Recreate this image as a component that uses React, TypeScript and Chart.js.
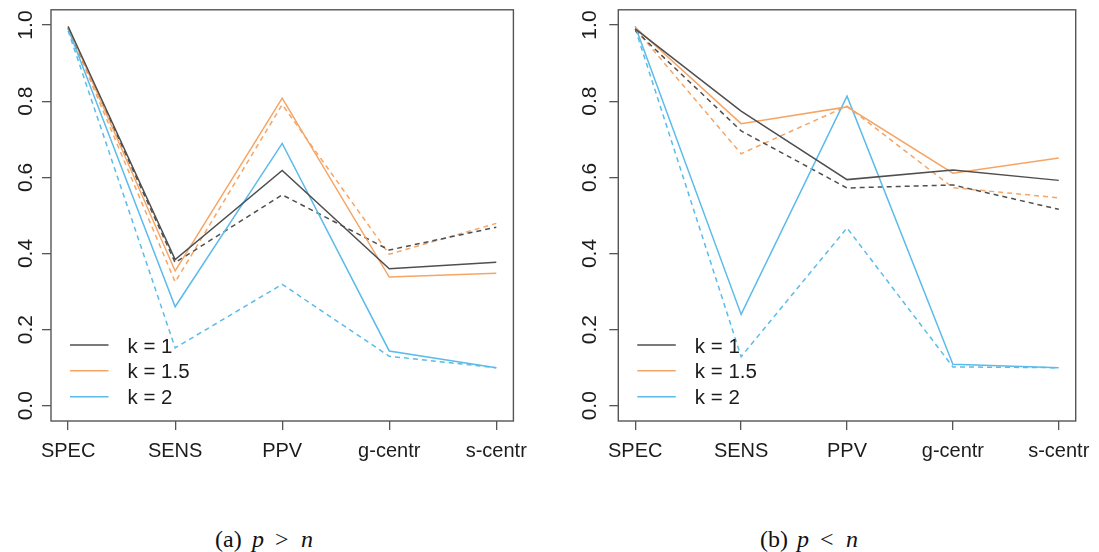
import React, { useEffect, useRef } from "react";
import { Chart, registerables } from "chart.js";

Chart.register(...registerables);

// Category axis and tick values
const categories = ["SPEC", "SENS", "PPV", "g-centr", "s-centr"];
const yTicks = [0, 0.2, 0.4, 0.6, 0.8, 1.0];

// Legend entries and their colours (one per k)
const kLabels = ["k = 1", "k = 1.5", "k = 2"];
const kColors = ["#4f4f4f", "#f6a565", "#5bbbea"];

// Panel (a): p > n
const aK1Solid = [0.996, 0.384, 0.618, 0.36, 0.377];
const aK1Dashed = [0.992, 0.376, 0.554, 0.409, 0.469];
const aK15Solid = [0.996, 0.354, 0.808, 0.338, 0.348];
const aK15Dashed = [0.993, 0.325, 0.791, 0.398, 0.479];
const aK2Solid = [0.99, 0.26, 0.689, 0.144, 0.1];
const aK2Dashed = [0.985, 0.152, 0.319, 0.13, 0.1];

// Panel (b): p < n
const bK1Solid = [0.99, 0.774, 0.594, 0.619, 0.592];
const bK1Dashed = [0.986, 0.722, 0.572, 0.58, 0.516];
const bK15Solid = [0.994, 0.741, 0.785, 0.611, 0.651];
const bK15Dashed = [0.99, 0.662, 0.787, 0.573, 0.546];
const bK2Solid = [0.997, 0.24, 0.813, 0.109, 0.1];
const bK2Dashed = [0.99, 0.129, 0.467, 0.102, 0.1];

type Line = { values: number[]; k: number; dashed: boolean };

const panelA: Line[] = [
  { values: aK1Solid, k: 0, dashed: false },
  { values: aK15Solid, k: 1, dashed: false },
  { values: aK2Solid, k: 2, dashed: false },
  { values: aK1Dashed, k: 0, dashed: true },
  { values: aK15Dashed, k: 1, dashed: true },
  { values: aK2Dashed, k: 2, dashed: true },
];

const panelB: Line[] = [
  { values: bK1Solid, k: 0, dashed: false },
  { values: bK15Solid, k: 1, dashed: false },
  { values: bK2Solid, k: 2, dashed: false },
  { values: bK1Dashed, k: 0, dashed: true },
  { values: bK15Dashed, k: 1, dashed: true },
  { values: bK2Dashed, k: 2, dashed: true },
];

const FONT = "'Liberation Sans', Arial, Helvetica, sans-serif";
const TEXT = "#1c1c1c";
const FRAME = "#555555";
const CANVAS_H = 480;
const BOX_TOP = 9.8;
const BOX_BOTTOM = 421;
const LEGEND_ROWS = [345, 370.8, 396.7];

type PanelProps = {
  lines: Line[];
  left: number;
  width: number;
  boxLeft: number;
  boxRight: number;
  yLabelGap: number;
};

function Panel({ lines, left, width, boxLeft, boxRight, yLabelGap }: PanelProps) {
  const ref = useRef<HTMLCanvasElement | null>(null);

  useEffect(() => {
    const canvas = ref.current;
    if (!canvas) return;

    const datasets = lines.map((l, i) => ({
      label: `${kLabels[l.k]}${l.dashed ? " (dashed)" : ""}`,
      data: l.values.map((v, j) => ({ x: j + 1, y: v })),
      borderColor: kColors[l.k],
      backgroundColor: kColors[l.k],
      borderWidth: 1.5,
      borderDash: l.dashed ? [5, 4] : [],
      pointRadius: 0,
      pointHoverRadius: 0,
      fill: false,
      tension: 0,
      order: i,
    }));

    // Frame, rotated y tick labels and the in-plot legend
    const decor = {
      id: "decor",
      afterDraw(chart: Chart) {
        const { ctx, chartArea: a } = chart;
        const yScale = chart.scales.y;
        ctx.save();
        ctx.strokeStyle = FRAME;
        ctx.lineWidth = 1.4;
        ctx.setLineDash([]);
        ctx.strokeRect(a.left, a.top, a.right - a.left, a.bottom - a.top);

        ctx.fillStyle = TEXT;
        ctx.font = `21px ${FONT}`;
        ctx.textAlign = "center";
        ctx.textBaseline = "alphabetic";
        for (const v of yTicks) {
          const y = yScale.getPixelForValue(v);
          ctx.save();
          ctx.translate(a.left - yLabelGap, y);
          ctx.rotate(-Math.PI / 2);
          ctx.fillText(v.toFixed(1), 0, 0);
          ctx.restore();
        }

        ctx.font = `20.5px ${FONT}`;
        ctx.textAlign = "left";
        kLabels.forEach((label, i) => {
          const y = LEGEND_ROWS[i];
          ctx.strokeStyle = kColors[i];
          ctx.lineWidth = 1.6;
          ctx.beginPath();
          ctx.moveTo(a.left + 19, y);
          ctx.lineTo(a.left + 57.5, y);
          ctx.stroke();
          ctx.fillStyle = TEXT;
          ctx.fillText(label, a.left + 76.5, y + 7.5);
        });
        ctx.restore();
      },
    };

    const chart = new Chart(canvas, {
      type: "line",
      data: { datasets },
      options: {
        responsive: false,
        animation: false,
        events: [],
        layout: {
          padding: { left: 0, top: BOX_TOP, right: width - boxRight, bottom: 0 },
        },
        plugins: {
          legend: { display: false },
          tooltip: { enabled: false },
        },
        scales: {
          x: {
            type: "linear",
            min: 0.84,
            max: 5.16,
            afterBuildTicks: (s: any) => {
              s.ticks = categories.map((_, i) => ({ value: i + 1 }));
            },
            afterFit: (s: any) => {
              s.height = CANVAS_H - BOX_BOTTOM;
            },
            grid: {
              drawOnChartArea: false,
              drawTicks: true,
              tickLength: 9,
              color: FRAME,
              lineWidth: 1.3,
            },
            border: { display: false },
            ticks: {
              autoSkip: false,
              minRotation: 0,
              maxRotation: 0,
              padding: 9,
              color: TEXT,
              font: { family: FONT, size: 20 },
              callback: (v: any) => categories[Math.round(Number(v)) - 1] ?? "",
            },
          },
          y: {
            type: "linear",
            min: -0.04,
            max: 1.04,
            afterBuildTicks: (s: any) => {
              s.ticks = yTicks.map((v) => ({ value: v }));
            },
            afterFit: (s: any) => {
              s.width = boxLeft;
            },
            grid: {
              drawOnChartArea: false,
              drawTicks: true,
              tickLength: 9,
              color: FRAME,
              lineWidth: 1.3,
            },
            border: { display: false },
            ticks: { display: false },
          },
        },
      },
      plugins: [decor],
    } as any);

    return () => chart.destroy();
  }, [lines, width, boxLeft, boxRight, yLabelGap]);

  return (
    <canvas
      ref={ref}
      width={width}
      height={CANVAS_H}
      style={{ position: "absolute", left, top: 0, width, height: CANVAS_H }}
    />
  );
}

const capStyle: React.CSSProperties = {
  position: "absolute",
  top: 527,
  fontFamily: "'Liberation Serif', 'Times New Roman', serif",
  fontSize: 24,
  lineHeight: "24px",
  color: "#111",
  whiteSpace: "nowrap",
};

function Caption({ x, tag, rel }: { x: number; tag: string; rel: string }) {
  return (
    <>
      <span style={{ ...capStyle, left: x }}>{tag}</span>
      <span style={{ ...capStyle, left: x + 37, fontStyle: "italic" }}>p</span>
      <span style={{ ...capStyle, left: x + 60 }}>{rel}</span>
      <span style={{ ...capStyle, left: x + 86, fontStyle: "italic" }}>n</span>
    </>
  );
}

export default function App() {
  return (
    <div
      style={{
        position: "absolute",
        left: 0,
        top: 0,
        width: 1099,
        height: 552,
        background: "#ffffff",
        overflow: "hidden",
      }}
    >
      <Panel lines={panelA} left={0} width={560} boxLeft={51} boxRight={513.4} yLabelGap={19.5} />
      <Panel lines={panelB} left={560} width={539} boxLeft={58.3} boxRight={521} yLabelGap={22.5} />
      <Caption x={215} tag="(a)" rel=">" />
      <Caption x={760} tag="(b)" rel="<" />
    </div>
  );
}
